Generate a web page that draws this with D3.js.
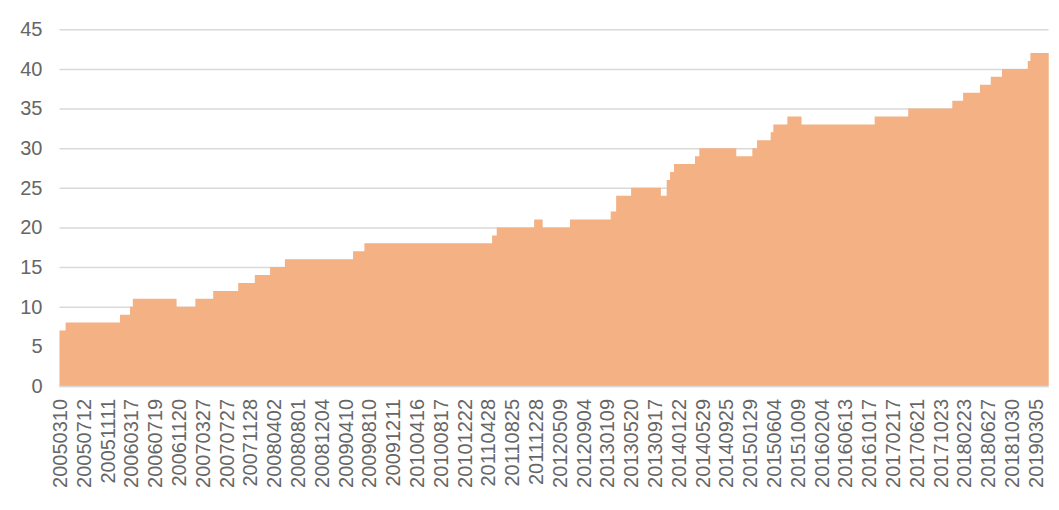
<!DOCTYPE html>
<html>
<head>
<meta charset="utf-8">
<script src="https://cdn.jsdelivr.net/npm/d3@7"></script>
<style>
  html, body { margin: 0; padding: 0; background: #fff; }
  svg { display: block; font-family: "Liberation Sans", Arial, sans-serif; }
</style>
</head>
<body>
<svg id="chart" width="1059" height="510"></svg>
<script>
// ---- data ----
const tickLabels = [
  "20050310","20050712","20051111","20060317","20060719","20061120","20070327",
  "20070727","20071128","20080402","20080801","20081204","20090410","20090810",
  "20091211","20100416","20100817","20101222","20110428","20110825","20111228",
  "20120509","20120904","20130109","20130520","20130917","20140122","20140529",
  "20140925","20150129","20150604","20151009","20160204","20160613","20161017",
  "20170217","20170621","20171023","20180223","20180627","20181030","20190305"
];
const stepDates = [
  "20050310","20050411","20060118","20060312","20060327","20061110","20070218",
  "20070522","20070928","20071224","20080314","20080529","20090521","20090718",
  "20110519","20110611","20111221","20120206","20120701","20130130","20130301",
  "20130522","20131021","20131121","20131209","20131230","20140421","20140514",
  "20141119","20150212","20150309","20150520","20150603","20150817","20151030",
  "20161117","20170510","20171225","20180219","20180518","20180713","20180910",
  "20190124","20190207","20190515"
];
const stepValues = [
  7, 8, 9, 10, 11, 10, 11,
  12, 13, 14, 15, 16, 17, 18,
  19, 20, 21, 20, 21, 22, 24,
  25, 24, 26, 27, 28, 29, 30,
  29, 30, 31, 32, 33, 34, 33,
  34, 35, 36, 37, 38, 39, 40,
  41, 42, 42
];
const yTicks = [0, 5, 10, 15, 20, 25, 30, 35, 40, 45];

// ---- layout ----
const plotLeft = 59.5, plotRight = 1048.5, plotTop = 29.3, plotBottom = 386;
const parse = d3.timeParse("%Y%m%d");
const fmt = d3.timeFormat("%Y%m%d");
const tickDates = tickLabels.map(parse);

// category positions are evenly spaced; dates between labels are placed piecewise
const pos = d3.scalePoint().domain(tickLabels).range([59.5, 1035.3]);
const x = d3.scaleTime().domain(tickDates).range(tickLabels.map(l => pos(l)));
const y = d3.scaleLinear().domain([0, 45]).range([plotBottom, plotTop]);

const data = stepDates.map((d, i) => ({ date: parse(d), value: stepValues[i] }));

const svg = d3.select("#chart");

// gridlines + y labels
const yAxis = svg.append("g")
  .attr("transform", `translate(${plotLeft},0)`)
  .call(d3.axisLeft(y).tickValues(yTicks).tickSize(-(plotRight - plotLeft)).tickPadding(17));
yAxis.select(".domain").remove();
yAxis.selectAll(".tick line").attr("stroke", "#d9d9d9").attr("stroke-width", 1.5);
yAxis.selectAll(".tick text")
  .attr("fill", "#666").style("font-size", "20px")
  .style("font-family", "'Liberation Sans', Arial, sans-serif");

// area
const area = d3.area()
  .curve(d3.curveStepAfter)
  .x(d => x(d.date))
  .y0(y(0))
  .y1(d => y(d.value));
svg.append("path")
  .datum(data)
  .attr("d", area)
  .attr("fill", "#F4B183");

// x axis
const xAxis = svg.append("g")
  .attr("transform", `translate(0,${plotBottom})`)
  .call(d3.axisBottom(x).tickValues(tickDates).tickFormat(fmt).tickSize(0));
xAxis.select(".domain").remove();
xAxis.append("line")
  .attr("x1", plotLeft).attr("x2", plotRight)
  .attr("y1", 0.5).attr("y2", 0.5)
  .attr("stroke", "#d9d9d9").attr("stroke-width", 1.5);
xAxis.selectAll(".tick text")
  .attr("transform", "rotate(-90)")
  .attr("x", -13).attr("y", 0).attr("dy", "0.35em")
  .attr("text-anchor", "end")
  .attr("fill", "#666").style("font-size", "20px")
  .style("font-family", "'Liberation Sans', Arial, sans-serif");
</script>
</body>
</html>
